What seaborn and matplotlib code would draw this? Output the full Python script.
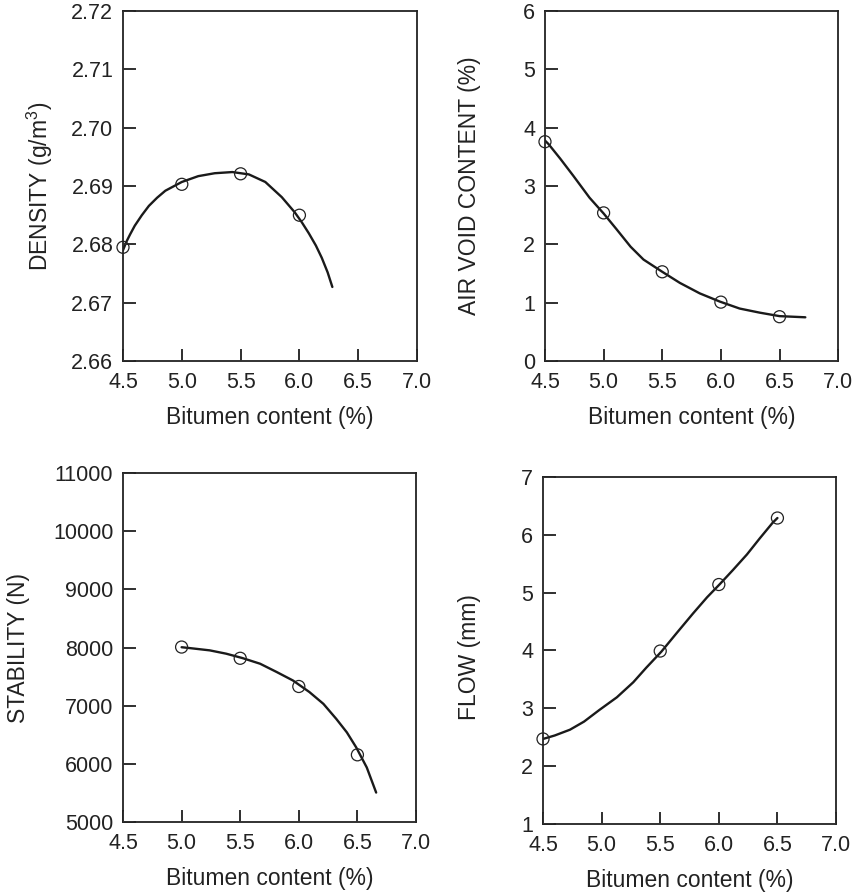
import matplotlib
matplotlib.use("Agg")
import matplotlib.pyplot as plt
import seaborn as sns
import pandas as pd

# ---- measured points ----
density_x = [4.5, 5.0, 5.5, 6.0]
density_y = [2.6795, 2.6903, 2.6921, 2.6850]
voids_x = [4.5, 5.0, 5.5, 6.0, 6.5]
voids_y = [3.76, 2.54, 1.53, 1.01, 0.76]
stab_x = [5.0, 5.5, 6.0, 6.5]
stab_y = [8008, 7815, 7330, 6155]
flow_x = [4.5, 5.5, 6.0, 6.5]
flow_y = [2.47, 3.99, 5.14, 6.29]

# ---- fitted curves ----
density_cx = [4.50, 4.53, 4.56, 4.60, 4.66, 4.72, 4.79, 4.86, 5.00, 5.14, 5.28, 5.43, 5.57, 5.71, 5.85, 5.96, 6.02, 6.08, 6.14, 6.19, 6.24, 6.28]
density_cy = [2.6790, 2.6805, 2.6817, 2.6832, 2.6850, 2.6866, 2.6880, 2.6892, 2.6907, 2.6917, 2.6922, 2.6924, 2.6920, 2.6907, 2.6881, 2.6855, 2.6838, 2.6819, 2.6798, 2.6777, 2.6752, 2.6727]
voids_cx = [4.50, 4.53, 4.63, 4.74, 4.88, 5.00, 5.11, 5.23, 5.34, 5.50, 5.65, 5.82, 5.99, 6.16, 6.33, 6.50, 6.72]
voids_cy = [3.78, 3.72, 3.47, 3.18, 2.80, 2.53, 2.26, 1.96, 1.74, 1.53, 1.34, 1.16, 1.02, 0.90, 0.83, 0.77, 0.75]
stab_cx = [5.00, 5.07, 5.24, 5.38, 5.52, 5.67, 5.81, 5.95, 6.09, 6.21, 6.32, 6.41, 6.49, 6.58, 6.66]
stab_cy = [8005, 7990, 7951, 7894, 7818, 7721, 7580, 7433, 7235, 7031, 6772, 6541, 6282, 5937, 5506]
flow_cx = [4.50, 4.60, 4.73, 4.85, 4.98, 5.13, 5.27, 5.38, 5.51, 5.64, 5.78, 5.90, 6.01, 6.12, 6.24, 6.35, 6.46, 6.50]
flow_cy = [2.47, 2.53, 2.63, 2.77, 2.97, 3.19, 3.45, 3.70, 3.98, 4.30, 4.64, 4.92, 5.15, 5.39, 5.66, 5.94, 6.21, 6.29]

x_ticks = [4.5, 5.0, 5.5, 6.0, 6.5, 7.0]
x_label = "Bitumen content (%)"

sns.set_theme(style="ticks")
plt.rcParams["font.family"] = ["Liberation Sans", "DejaVu Sans"]
plt.rcParams["mathtext.fontset"] = "custom"
plt.rcParams["mathtext.rm"] = "Liberation Sans"
plt.rcParams.update({
    "xtick.direction": "in", "ytick.direction": "in",
    "xtick.major.size": 9, "ytick.major.size": 9,
    "xtick.major.width": 1.3, "ytick.major.width": 1.3,
    "xtick.major.pad": 8, "ytick.major.pad": 7,
    "xtick.labelsize": 15.5, "ytick.labelsize": 15.5,
    "xtick.color": "#222222", "ytick.color": "#222222",
    "xtick.top": False, "ytick.right": False,
    "axes.edgecolor": "#222222", "axes.linewidth": 1.3,
})

fig = plt.figure(figsize=(8.53, 8.93), dpi=100)

panels = [
    dict(pos=[0.1442, 0.5957, 0.3447, 0.3919], mx=density_x, my=density_y, cx=density_cx, cy=density_cy,
         ylim=(2.66, 2.72), yticks=[2.66, 2.67, 2.68, 2.69, 2.70, 2.71, 2.72], yfmt="{:.2f}",
         ylabel="DENSITY (g/m$^3$)", lx=-0.232, ly=0.5),
    dict(pos=[0.6389, 0.5957, 0.3437, 0.3919], mx=voids_x, my=voids_y, cx=voids_cx, cy=voids_cy,
         ylim=(0, 6), yticks=[0, 1, 2, 3, 4, 5, 6], yfmt="{:d}",
         ylabel="AIR VOID CONTENT (%)", lx=-0.218, ly=0.5),
    dict(pos=[0.1442, 0.0795, 0.3435, 0.3908], mx=stab_x, my=stab_y, cx=stab_cx, cy=stab_cy,
         ylim=(5000, 11000), yticks=[5000, 6000, 7000, 8000, 9000, 10000, 11000], yfmt="{:d}",
         ylabel="STABILITY (N)", lx=-0.317, ly=0.5),
    dict(pos=[0.6366, 0.0773, 0.3435, 0.3886], mx=flow_x, my=flow_y, cx=flow_cx, cy=flow_cy,
         ylim=(1, 7), yticks=[1, 2, 3, 4, 5, 6, 7], yfmt="{:d}",
         ylabel="FLOW (mm)", lx=-0.212, ly=0.48),
]

TICK_FRAC_X = 0.030   # inward tick length as a fraction of axes height
TICK_FRAC_Y = 0.035   # inward tick length as a fraction of axes width

for p in panels:
    ax = fig.add_axes(p["pos"])
    curve = pd.DataFrame({"x": p["cx"], "y": p["cy"]})
    pts = pd.DataFrame({"x": p["mx"], "y": p["my"]})
    sns.lineplot(data=curve, x="x", y="y", sort=False, color="#1a1a1a", linewidth=1.7, ax=ax)
    sns.scatterplot(data=pts, x="x", y="y", marker="o", s=75, facecolors="none",
                    edgecolor="#222222", linewidth=0.9, ax=ax, zorder=5, clip_on=False)
    ax.set_xlim(4.5, 7.0)
    ax.set_ylim(*p["ylim"])
    ax.set_xticks(x_ticks, [f"{v:.1f}" for v in x_ticks])
    ax.set_yticks(p["yticks"], [p["yfmt"].format(v) for v in p["yticks"]])
    ax.tick_params(axis="both", direction="in", length=9, width=1.3, color="#222222")
    # inward tick marks drawn along the bottom and left edges at the tick values
    for v in x_ticks:
        ax.axvline(v, ymin=0, ymax=TICK_FRAC_X, color="#333333", linewidth=1.2, zorder=4)
    for v in p["yticks"]:
        ax.axhline(v, xmin=0, xmax=TICK_FRAC_Y, color="#333333", linewidth=1.2, zorder=4)
    ax.set_xlabel(x_label, fontsize=16.5, labelpad=9, color="#222222")
    ax.set_ylabel(p["ylabel"], fontsize=16.5, color="#222222")
    ax.yaxis.set_label_coords(p["lx"], p["ly"])

fig.savefig("out.png", dpi=100, facecolor="white")
